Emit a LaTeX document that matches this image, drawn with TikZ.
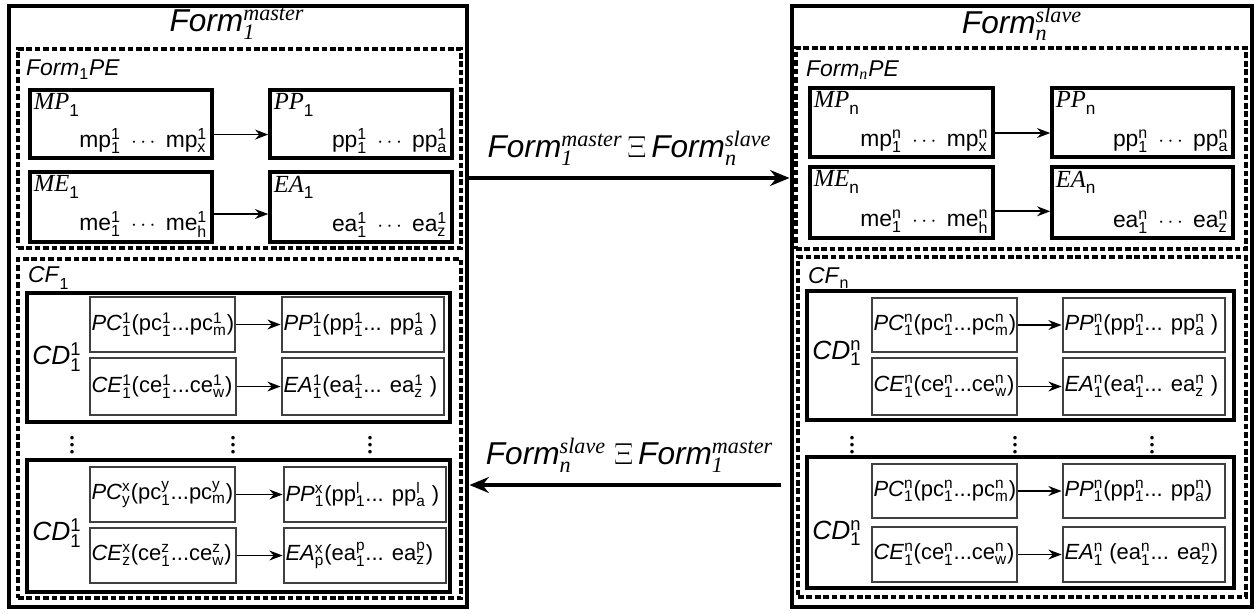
\documentclass[tikz,border=0pt]{standalone}
\usepackage{fontspec}
\setmainfont{Liberation Serif}
\setsansfont{Liberation Sans}
\usetikzlibrary{positioning, arrows.meta, fit}

% sub- and superscript in sans digits/letters
\newcommand{\ud}[2]{$_{\mathsf{#1}}^{\mathsf{#2}}$}

\begin{document}
\begin{tikzpicture}[
      x=0.02cm, y=-0.02cm, font=\sffamily,
      outer/.style={draw, line width=2.8pt, inner sep=0pt},
      dashbox/.style={draw, line width=2pt, dash pattern=on 3.2pt off 1.6pt, inner sep=0pt},
      pebox/.style={draw, line width=2pt, inner sep=0pt},
      cdbox/.style={draw, line width=2.4pt, inner sep=0pt},
      rulebox/.style={draw=black!75, line width=1.6pt, inner sep=0pt},
      title/.style={font=\sffamily\fontsize{18}{20}\selectfont},
      grp/.style={font=\sffamily\fontsize{13}{14}\selectfont, anchor=west, inner sep=1pt},
      pename/.style={font=\rmfamily\itshape\fontsize{14}{15}\selectfont, anchor=north west, inner sep=3pt},
      peval/.style={font=\sffamily\fontsize{13}{14}\selectfont, anchor=south east, inner sep=3.5pt},
      rulet/.style={font=\sffamily\fontsize{12.5}{13}\selectfont, anchor=west, inner sep=1.5pt},
      cdname/.style={font=\sffamily\fontsize{15}{16}\selectfont},
      vdot/.style={font=\fontsize{17}{17}\selectfont, inner sep=0pt},
      arr/.style={-Stealth, line width=1pt},
      bigarr/.style={-{Stealth[length=11pt, width=9pt]}, line width=1.8pt}
    ]
    \useasboundingbox (0,0) rectangle (1260,613);

    % master form
    \node[outer, fit={(9,6) (467,607)}] (fm) {};
    \node[title] (fmt) at (237,24) {\textit{Form}$^{\mathit{master}}_{\mathit{1}}$};
    \node[dashbox, fit={(18,49) (461,248)}] (pe1) {};
    \node[grp] (pe1t) at (24,70) {\textit{Form}$_{\mathsf{1}}$\textit{PE}};
    \node[pebox, fit={(30,90) (212,158)}] (mp1) {};
    \node[pebox, fit={(270,90) (452,158)}] (pp1) {};
    \node[pebox, fit={(30,172) (212,242)}] (me1) {};
    \node[pebox, fit={(270,172) (452,242)}] (ea1) {};
    \node[pename] at (mp1.north west) {MP\ud{1}{}};
    \node[peval] at (mp1.south east) {mp\ud{1}{1} \,$\cdots$\, mp\ud{x}{1}};
    \node[pename] at (pp1.north west) {PP\ud{1}{}};
    \node[peval] at (pp1.south east) {pp\ud{1}{1} \,$\cdots$\, pp\ud{a}{1}};
    \node[pename] at (me1.north west) {ME\ud{1}{}};
    \node[peval] at (me1.south east) {me\ud{1}{1} \,$\cdots$\, me\ud{h}{1}};
    \node[pename] at (ea1.north west) {EA\ud{1}{}};
    \node[peval] at (ea1.south east) {ea\ud{1}{1} \,$\cdots$\, ea\ud{z}{1}};
    \draw[arr] ([yshift=-6pt]mp1.east) -- ([yshift=-6pt]pp1.west);
    \draw[arr] ([yshift=-4pt]me1.east) -- ([yshift=-4pt]ea1.west);

    \node[dashbox, fit={(18,259) (461,598)}] (cf1) {};
    \node[grp] (cf1t) at (26,278) {\textit{CF}\ud{1}{}};
    \node[cdbox, fit={(27,293) (450,422)}] (cd11) {};
    \node[cdname] (cd11t) at (57,357) {\textit{CD}\ud{1}{1}};
    \node[rulebox, fit={(90,297) (235,352)}] (pc11) {};
    \node[rulebox, fit={(282,297) (444,352)}] (pp11) {};
    \node[rulebox, fit={(90,358) (236,415)}] (ce11) {};
    \node[rulebox, fit={(282,358) (444,415)}] (ea11) {};
    \node[rulet] at (pc11.west) {\textit{PC}\ud{1}{1}(pc\ud{1}{1}...pc\ud{m}{1})};
    \node[rulet] at (pp11.west) {\textit{PP}\ud{1}{1}(pp\ud{1}{1}... pp\ud{a}{1} )};
    \node[rulet] at (ce11.west) {\textit{CE}\ud{1}{1}(ce\ud{1}{1}...ce\ud{w}{1})};
    \node[rulet] at (ea11.west) {\textit{EA}\ud{1}{1}(ea\ud{1}{1}... ea\ud{z}{1} )};
    \draw[arr] (pc11) -- (pp11);
    \draw[arr] (ce11) -- (ea11);
    \node[vdot] (d11) at (72,440) {$\vdots$};
    \node[vdot] (d12) at (233,440) {$\vdots$};
    \node[vdot] (d13) at (370,440) {$\vdots$};
    \node[cdbox, fit={(27,460) (450,592)}] (cd12) {};
    \node[cdname] (cd12t) at (57,533) {\textit{CD}\ud{1}{1}};
    \node[rulebox, fit={(90,467) (235,522)}] (pc12) {};
    \node[rulebox, fit={(284,467) (446,522)}] (pp12) {};
    \node[rulebox, fit={(90,528) (236,583)}] (ce12) {};
    \node[rulebox, fit={(284,528) (446,583)}] (ea12) {};
    \node[rulet] at (pc12.west) {\textit{PC}\ud{y}{x}(pc\ud{1}{y}...pc\ud{m}{y})};
    \node[rulet] at (pp12.west) {\textit{PP}\ud{1}{x}(pp\ud{1}{l}... pp\ud{a}{l} )};
    \node[rulet] at (ce12.west) {\textit{CE}\ud{z}{x}(ce\ud{1}{z}...ce\ud{w}{z})};
    \node[rulet] at (ea12.west) {\textit{EA}\ud{p}{x}(ea\ud{1}{p}... ea\ud{z}{p})};
    \draw[arr] (pc12) -- (pp12);
    \draw[arr] (ce12) -- (ea12);

    % slave form
    \node[outer, fit={(792,6) (1252,607)}] (fs) {};
    \node[title] (fst) at (1022,24) {\textit{Form}$^{\mathit{slave}}_{\mathit{n}}$};
    \node[dashbox, fit={(796,48) (1246,249)}] (pe2) {};
    \node[grp] (pe2t) at (804,70) {\textit{Form}$_{\mathit{n}}$\textit{PE}};
    \node[pebox, fit={(810,88) (993,157)}] (mpn) {};
    \node[pebox, fit={(1052,88) (1233,157)}] (ppn) {};
    \node[pebox, fit={(810,167) (993,238)}] (men) {};
    \node[pebox, fit={(1052,167) (1233,238)}] (ean) {};
    \node[pename] at (mpn.north west) {MP\ud{n}{}};
    \node[peval] at (mpn.south east) {mp\ud{1}{n} \,$\cdots$\, mp\ud{x}{n}};
    \node[pename] at (ppn.north west) {PP\ud{n}{}};
    \node[peval] at (ppn.south east) {pp\ud{1}{n} \,$\cdots$\, pp\ud{a}{n}};
    \node[pename] at (men.north west) {ME\ud{n}{}};
    \node[peval] at (men.south east) {me\ud{1}{n} \,$\cdots$\, me\ud{h}{n}};
    \node[pename] at (ean.north west) {EA\ud{n}{}};
    \node[peval] at (ean.south east) {ea\ud{1}{n} \,$\cdots$\, ea\ud{z}{n}};
    \draw[arr] ([yshift=-6pt]mpn.east) -- ([yshift=-6pt]ppn.west);
    \draw[arr] ([yshift=-5pt]men.east) -- ([yshift=-5pt]ean.west);

    \node[dashbox, fit={(798,257) (1246,597)}] (cf2) {};
    \node[grp] (cf2t) at (806,278) {\textit{CF}\ud{n}{}};
    \node[cdbox, fit={(807,291) (1234,420)}] (cdn1) {};
    \node[cdname] (cdn1t) at (837,353) {\textit{CD}\ud{1}{n}};
    \node[rulebox, fit={(872,298) (1017,352)}] (pcn1) {};
    \node[rulebox, fit={(1063,298) (1225,352)}] (ppn1) {};
    \node[rulebox, fit={(872,358) (1017,415)}] (cen1) {};
    \node[rulebox, fit={(1063,358) (1225,415)}] (ean1) {};
    \node[rulet] at (pcn1.west) {\textit{PC}\ud{1}{n}(pc\ud{1}{n}...pc\ud{m}{n})};
    \node[rulet] at (ppn1.west) {\textit{PP}\ud{1}{n}(pp\ud{1}{n}... pp\ud{a}{n} )};
    \node[rulet] at (cen1.west) {\textit{CE}\ud{1}{n}(ce\ud{1}{n}...ce\ud{w}{n})};
    \node[rulet] at (ean1.west) {\textit{EA}\ud{1}{n}(ea\ud{1}{n}... ea\ud{z}{n} )};
    \draw[arr] (pcn1) -- (ppn1);
    \draw[arr] (cen1) -- (ean1);
    \node[vdot] (dn1) at (852,440) {$\vdots$};
    \node[vdot] (dn2) at (1015,440) {$\vdots$};
    \node[vdot] (dn3) at (1152,440) {$\vdots$};
    \node[cdbox, fit={(807,457) (1234,588)}] (cdn2) {};
    \node[cdname] (cdn2t) at (837,533) {\textit{CD}\ud{1}{n}};
    \node[rulebox, fit={(872,464) (1017,518)}] (pcn2) {};
    \node[rulebox, fit={(1063,464) (1225,518)}] (ppn2) {};
    \node[rulebox, fit={(872,527) (1017,582)}] (cen2) {};
    \node[rulebox, fit={(1063,527) (1225,582)}] (ean2) {};
    \node[rulet] at (pcn2.west) {\textit{PC}\ud{1}{n}(pc\ud{1}{n}...pc\ud{m}{n})};
    \node[rulet] at (ppn2.west) {\textit{PP}\ud{1}{n}(pp\ud{1}{n}... pp\ud{a}{n})};
    \node[rulet] at (cen2.west) {\textit{CE}\ud{1}{n}(ce\ud{1}{n}...ce\ud{w}{n})};
    \node[rulet] at (ean2.west) {\textit{EA}\ud{1}{n} (ea\ud{1}{n}... ea\ud{z}{n})};
    \draw[arr] (pcn2) -- (ppn2);
    \draw[arr] (cen2) -- (ean2);

    % exchange between the two forms
    \coordinate (top) at (0,178);
    \coordinate (bot) at (0,485);
    \draw[bigarr] (fm.east |- top) -- (fs.west |- top)
      node[midway, above=3pt, title]
      {\textit{Form}$^{\mathit{master}}_{\mathit{1}}\,\Xi\,$\textit{Form}$^{\mathit{slave}}_{\mathit{n}}$};
    \draw[bigarr, shorten <=5pt] (fs.west |- bot) -- (fm.east |- bot)
      node[midway, above=3pt, title]
      {\textit{Form}$^{\mathit{slave}}_{\mathit{n}}\;\Xi\,$\textit{Form}$^{\mathit{master}}_{\mathit{1}}$};
  \end{tikzpicture}
\end{document}
